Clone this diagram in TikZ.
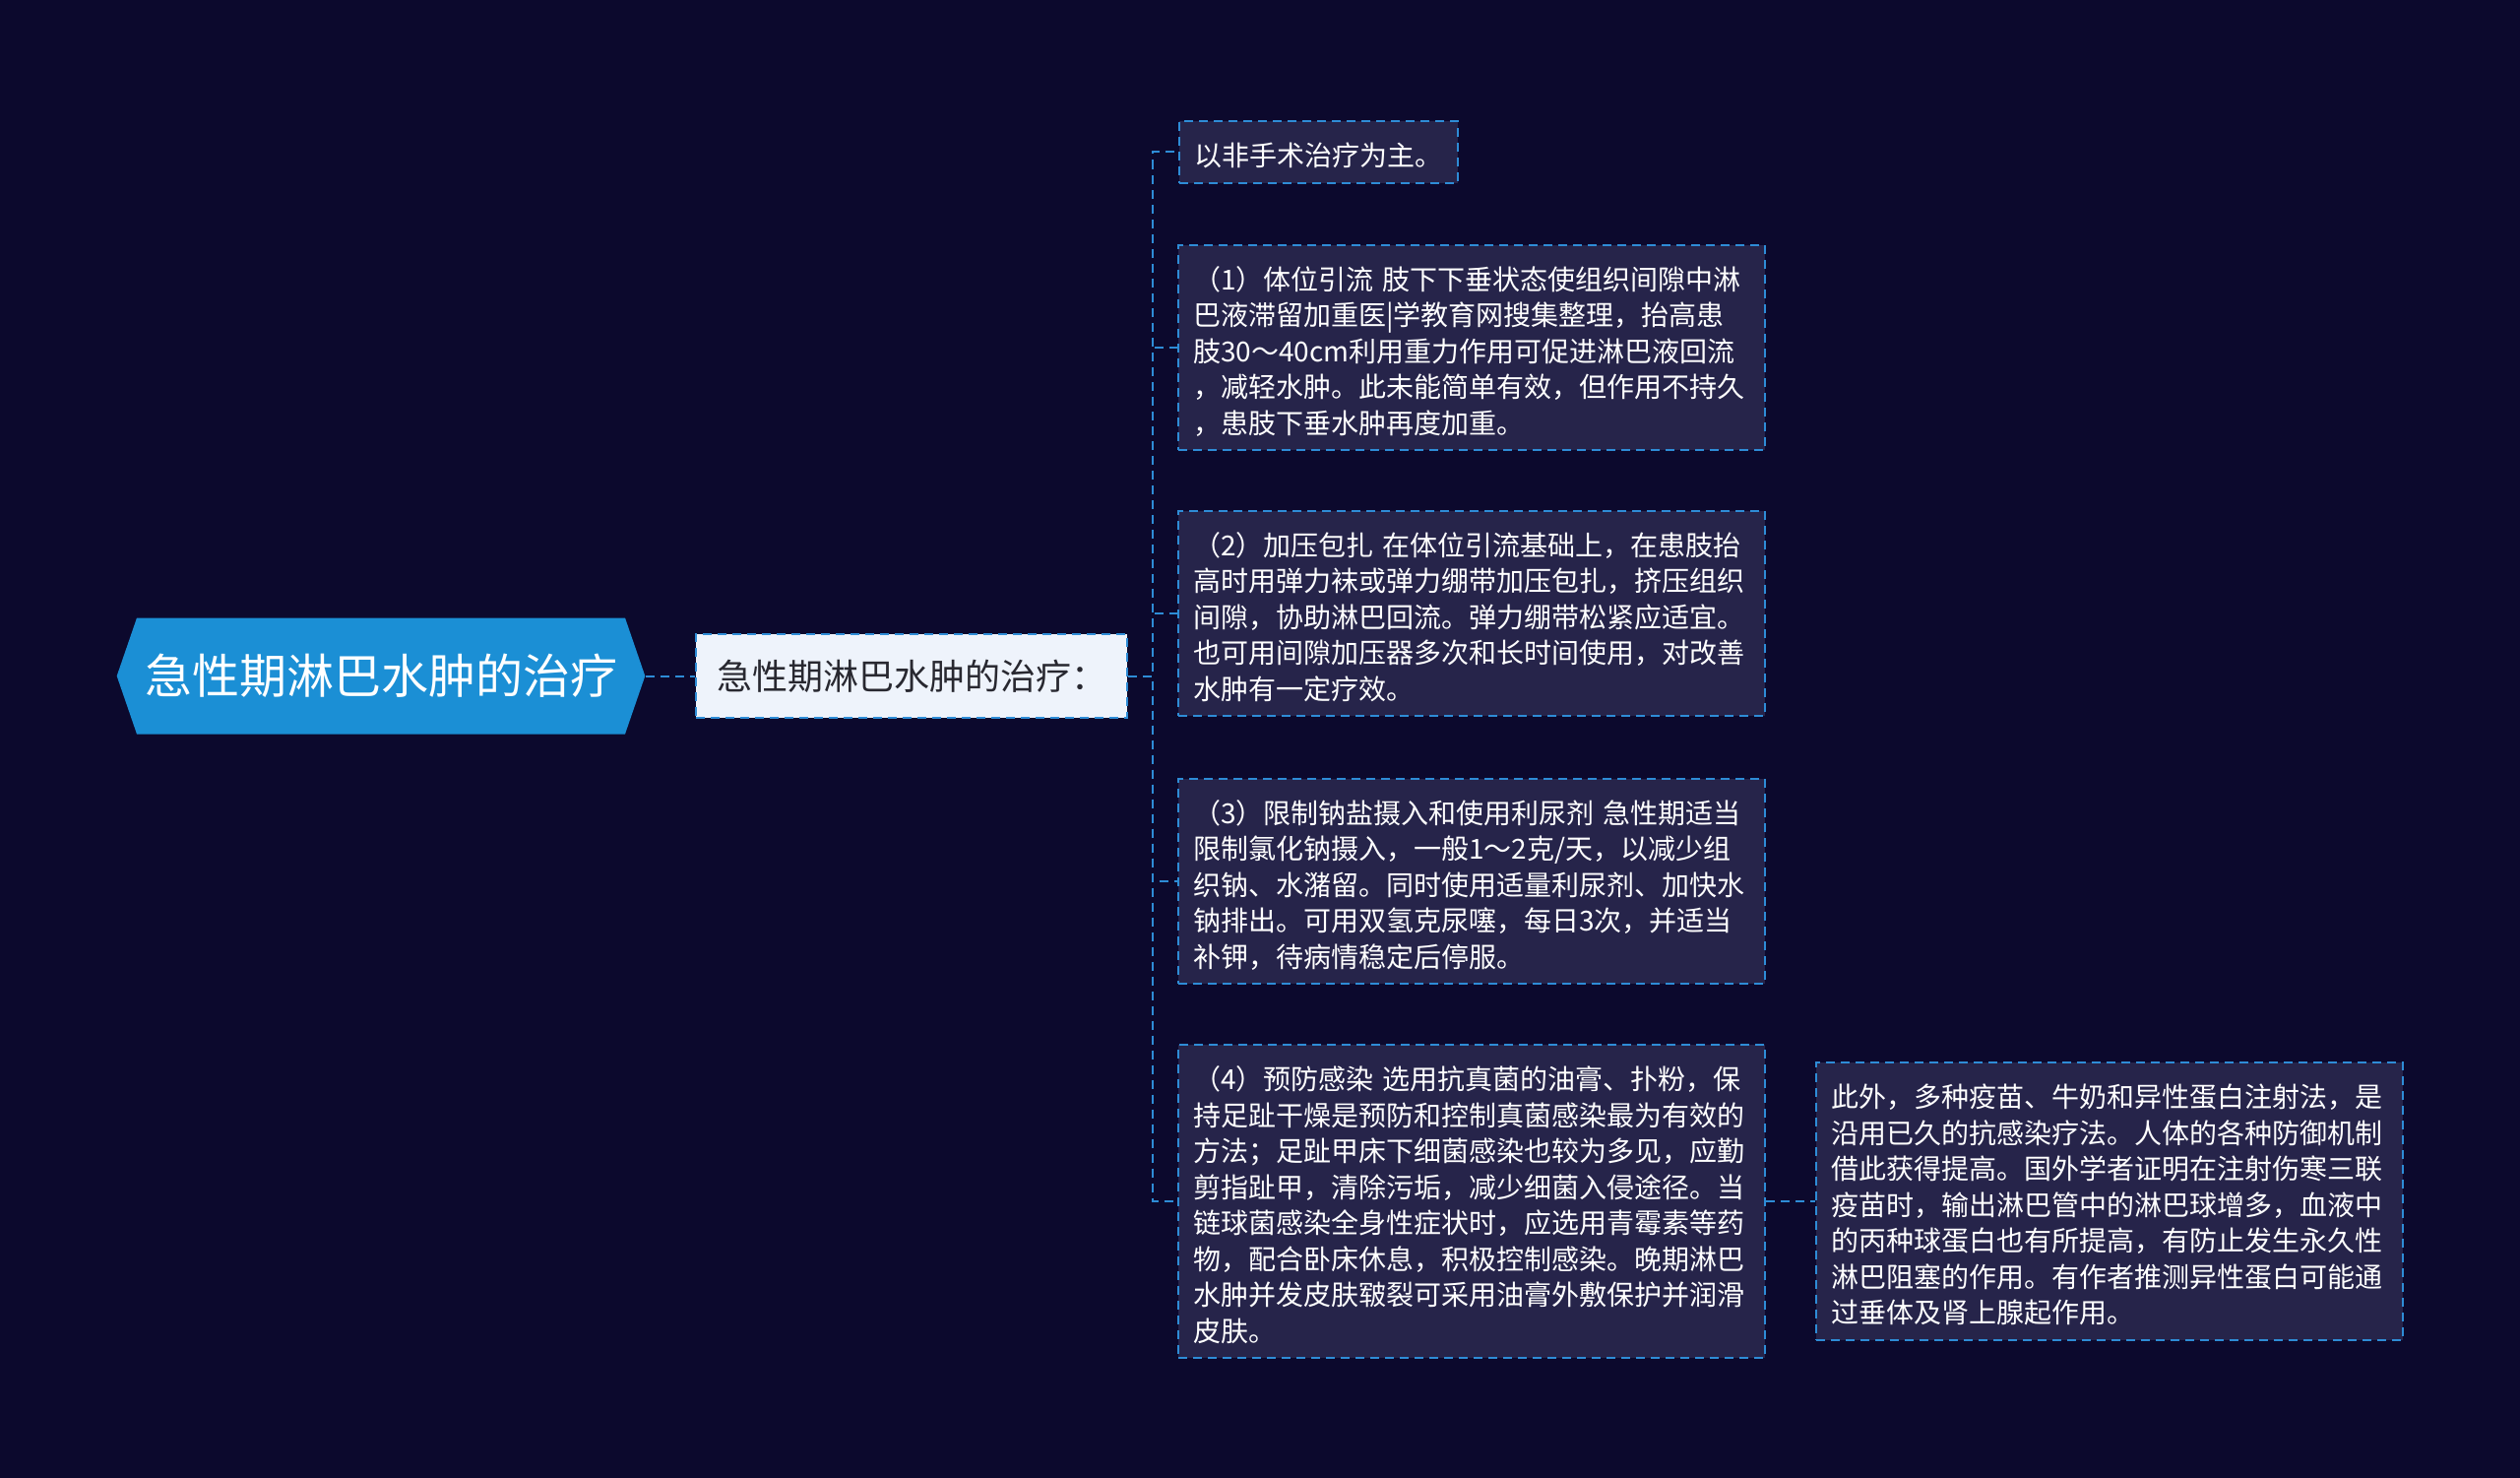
\documentclass[tikz,border=0pt]{standalone}
\usepackage{fontspec}
\setmainfont{Noto Sans CJK SC}
\usetikzlibrary{shapes.symbols}

\definecolor{bgnavy}{RGB}{12,9,45}
\definecolor{leaffill}{RGB}{38,36,74}
\definecolor{linkblue}{RGB}{46,140,214}
\definecolor{rootblue}{RGB}{27,143,213}
\definecolor{midfill}{RGB}{238,243,251}
\definecolor{midtext}{RGB}{40,40,48}

\tikzset{every picture/.style={line width=2pt}}
\tikzset{
  link/.style={draw=linkblue, dash pattern=on 9pt off 6pt},
  rootnode/.style={shape=signal, signal to=east and west, signal pointer angle=142, fill=rootblue, text=white,
    minimum width=524pt, minimum height=118pt, inner xsep=8pt, inner ysep=0pt, font=\fontsize{48}{56}\selectfont},
  midnode/.style={draw=linkblue, dash pattern=on 9pt off 6pt, fill=midfill, text=midtext,
    minimum width=438pt, minimum height=85pt, inner sep=0pt, font=\fontsize{36}{42}\selectfont},
  leafnode/.style={draw=linkblue, dash pattern=on 9pt off 6pt, fill=leaffill, text=white, anchor=north west,
    align=left, text width=566pt, inner xsep=15pt, inner ysep=0pt, font=\fontsize{28}{36.5}\selectfont,
    execute at begin node={\rule{0pt}{31pt}}},
}

\begin{document}
\begin{tikzpicture}[x=1pt,y=1pt,yscale=-1,xscale=1]
	\useasboundingbox[fill=bgnavy] (0,0) rectangle (2560,1501);

	%Shape: Hexagon [root]
	\node[rootnode] (root) at (387,686.5) {急性期淋巴水肿的治疗};
	% Text Node
	\node[midnode] (mid) at (926,686.5) {急性期淋巴水肿的治疗：};

	% Text Node
	\node[leafnode, text width=253pt, minimum height=63pt, execute at begin node={}] (l0) at (1197,122) {以非手术治疗为主。};
	% Text Node
	\node[leafnode, minimum height=208pt] (l1) at (1196,248) {（1）体位引流 肢下下垂状态使组织间隙中淋\\巴液滞留加重医|学教育网搜集整理，抬高患\\肢30～40cm利用重力作用可促进淋巴液回流\\，减轻水肿。此未能简单有效，但作用不持久\\，患肢下垂水肿再度加重。};
	% Text Node
	\node[leafnode, minimum height=208pt] (l2) at (1196,518) {（2）加压包扎 在体位引流基础上，在患肢抬\\高时用弹力袜或弹力绷带加压包扎，挤压组织\\间隙，协助淋巴回流。弹力绷带松紧应适宜。\\也可用间隙加压器多次和长时间使用，对改善\\水肿有一定疗效。};
	% Text Node
	\node[leafnode, minimum height=208pt] (l3) at (1196,790) {（3）限制钠盐摄入和使用利尿剂 急性期适当\\限制氯化钠摄入，一般1～2克/天，以减少组\\织钠、水潴留。同时使用适量利尿剂、加快水\\钠排出。可用双氢克尿噻，每日3次，并适当\\补钾，待病情稳定后停服。};
	% Text Node
	\node[leafnode, minimum height=318pt] (l4) at (1196,1060) {（4）预防感染 选用抗真菌的油膏、扑粉，保\\持足趾干燥是预防和控制真菌感染最为有效的\\方法；足趾甲床下细菌感染也较为多见，应勤\\剪指趾甲，清除污垢，减少细菌入侵途径。当\\链球菌感染全身性症状时，应选用青霉素等药\\物，配合卧床休息，积极控制感染。晚期淋巴\\水肿并发皮肤皲裂可采用油膏外敷保护并润滑\\皮肤。};
	% Text Node
	\node[leafnode, minimum height=282pt] (note) at (1844,1078) {此外，多种疫苗、牛奶和异性蛋白注射法，是\\沿用已久的抗感染疗法。人体的各种防御机制\\借此获得提高。国外学者证明在注射伤寒三联\\疫苗时，输出淋巴管中的淋巴球增多，血液中\\的丙种球蛋白也有所提高，有防止发生永久性\\淋巴阻塞的作用。有作者推测异性蛋白可能通\\过垂体及肾上腺起作用。};

	%Straight Lines
	\coordinate (trunk) at (1171,0);
	\draw[link] (root.east) -- (mid.west);
	\foreach \leaf in {l0,l1,l2,l3,l4}
		\draw[link] (mid.east) -- (mid.east -| trunk) |- (\leaf.west);
	\draw[link] (l4.east) -- (note.west);

\end{tikzpicture}
\end{document}
